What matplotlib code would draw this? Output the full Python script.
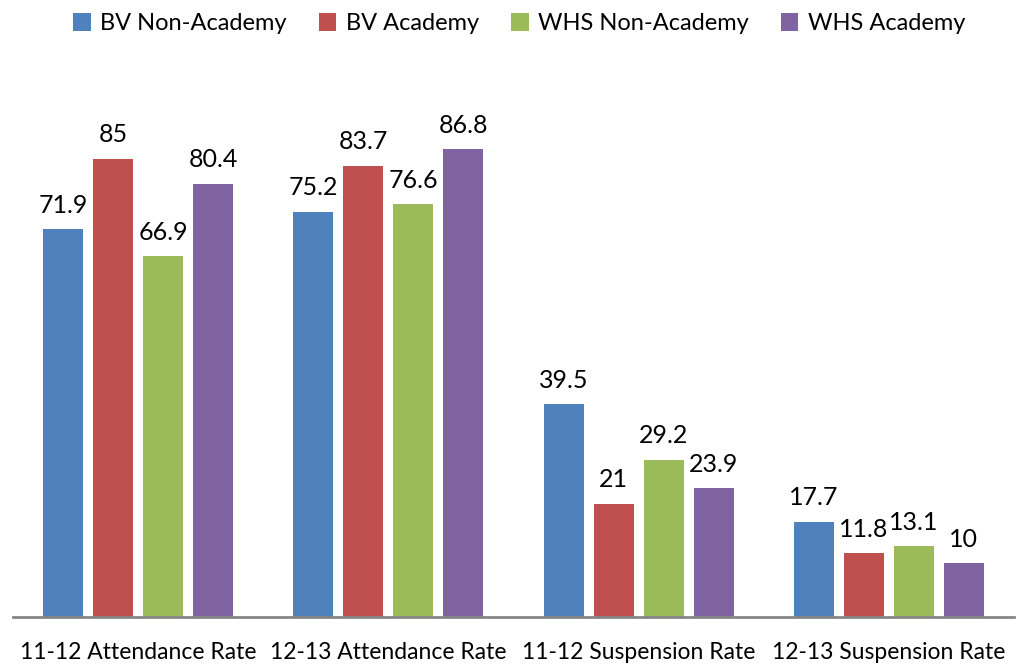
import matplotlib
matplotlib.use("Agg")
import matplotlib.pyplot as plt
import numpy as np

plt.rcParams['font.family'] = ['Lato', 'DejaVu Sans']

# Data
categories = ["11-12 Attendance Rate", "12-13 Attendance Rate",
              "11-12 Suspension Rate", "12-13 Suspension Rate"]
series_names = ["BV Non-Academy", "BV Academy", "WHS Non-Academy", "WHS Academy"]
bv_non = [71.9, 75.2, 39.5, 17.7]
bv_acad = [85, 83.7, 21, 11.8]
whs_non = [66.9, 76.6, 29.2, 13.1]
whs_acad = [80.4, 86.8, 23.9, 10]
colors = ["#4F81BD", "#C0504D", "#9BBB59", "#8064A2"]

fig = plt.figure(figsize=(10.16, 6.67), dpi=100)
ax = fig.add_axes([13 / 1016, 50 / 667, 1001 / 1016, 539 / 667])

x = np.arange(len(categories))
width = 0.16
step = 0.2
for i, (vals, name) in enumerate(zip([bv_non, bv_acad, whs_non, whs_acad], series_names)):
    bars = ax.bar(x + (i - 1.5) * step, vals, width, color=colors[i], label=name)
    ax.bar_label(bars, labels=[f"{v:g}" for v in vals], padding=9, fontsize=18)

ax.set_xlim(-0.5, 3.5)
ax.set_ylim(0, 100)
ax.set_xticks(x)
ax.set_xticklabels(categories, fontsize=16.5)
ax.tick_params(axis='x', length=0, pad=18)
ax.set_yticks([])
for s in ["top", "left", "right"]:
    ax.spines[s].set_visible(False)
ax.spines["bottom"].set_color("#868686")
ax.spines["bottom"].set_linewidth(2)

fig.legend(loc="upper center", bbox_to_anchor=(0.511, 1.012), ncol=4, frameon=False,
           fontsize=17, handlelength=0.75, handleheight=0.75, columnspacing=1.35,
           handletextpad=0.4)

fig.savefig("out.png", dpi=100)
